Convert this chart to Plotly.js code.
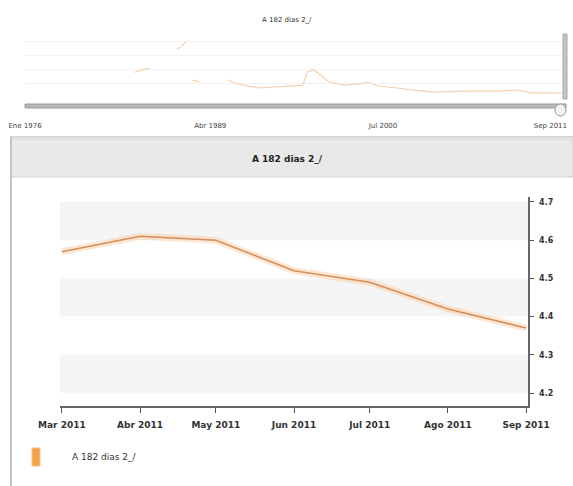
<!DOCTYPE html>
<html>
<head>
<meta charset="utf-8">
<script src="https://cdn.plot.ly/plotly-3.0.1.min.js"></script>
<style>html,body{margin:0;padding:0;background:#fff;}#chart{width:573px;height:486px;}</style>
</head>
<body>
<div id="chart"></div>
<script>
// ---- Data ----
const seriesName = "A 182 dias 2_/";
// main chart (monthly)
const mainDates = ["2011-03-01","2011-04-01","2011-05-01","2011-06-01","2011-07-01","2011-08-01","2011-09-01"];
const mainValues = [4.57, 4.61, 4.60, 4.52, 4.49, 4.42, 4.37];
const mainTickLabels = ["Mar 2011","Abr 2011","May 2011","Jun 2011","Jul 2011","Ago 2011","Sep 2011"];
const yTicks = [4.2, 4.3, 4.4, 4.5, 4.6, 4.7];
// overview (full history, gaps as null)
const overviewDates = ["1983-03-15","1984-03-01","1984-06-01",
  "1986-01-01","1986-04-15","1986-08-01","1986-10-01",
  "1987-01-01","1987-06-15","1988-06-01",
  "1989-05-01","1990-01-01","1991-06-01","1992-06-01","1993-06-01","1994-04-15","1994-08-01","1995-01-01","1995-05-15","1996-01-01","1997-01-01","1998-01-01","1998-07-01","1999-04-01","2000-07-01","2001-07-01","2003-01-01","2005-01-01","2007-01-01","2008-07-01","2009-04-01","2011-09-01"];
const overviewValues = [27, 31.5, null,
  52, 55, 60, null,
  18.5, 16.5, null,
  18.5, 14.2, 9.8, 10.9, 12, 13, 27.2, 29.4, 25, 16.3, 13, 14.2, 16.3, 12, 9.8, 7.6, 5.4, 6.5, 6.5, 7.6, 4.4, 4.37];
const overviewStartTick = ["1976-01-01"];
const overviewStartText = ["Ene 1976"];
const overviewTickVals = ["1989-04-01","2000-07-01","2011-09-01"];
const overviewTickText = ["Abr 1989","Jul 2000","Sep 2011"];
const overviewRange = ["1976-01-01", "2011-09-01"];
const bandRanges = [[4.2,4.3],[4.4,4.5],[4.6,4.7]];

// ---- Layout helpers ----
const W = 573, H = 486;
const px = x => x / W;
const py = y => 1 - y / H;

const traces = [
  {x: overviewDates, y: overviewValues, xaxis: "x2", yaxis: "y2", type: "scatter", mode: "lines",
   line: {color: "#f5cfae", width: 1.2}, connectgaps: false, hoverinfo: "skip", showlegend: false},
  // same overview series bound to the label axis (invisible), so that axis is drawn
  {x: overviewDates, y: overviewValues, xaxis: "x3", yaxis: "y2", type: "scatter", mode: "lines",
   line: {color: "rgba(0,0,0,0)", width: 0}, opacity: 0, hoverinfo: "skip", showlegend: false},
  {x: mainDates, y: mainValues, type: "scatter", mode: "lines",
   line: {color: "rgba(250,205,165,0.45)", width: 7}, hoverinfo: "skip", showlegend: false},
  {x: mainDates, y: mainValues, type: "scatter", mode: "lines", name: seriesName,
   line: {color: "#d98d55", width: 1.5}, showlegend: false}
];

const shapes = [];
// alternating bands in main plot
bandRanges.forEach(r => shapes.push({type: "rect", xref: "paper", yref: "y", layer: "below",
  x0: px(60), x1: px(528), y0: r[0], y1: r[1], fillcolor: "#f5f5f5", line: {width: 0}}));
// range slider bar
shapes.push({type: "rect", xref: "paper", yref: "paper", x0: px(25), x1: px(566), y0: py(108), y1: py(104),
  fillcolor: "#b9b9b9", line: {color: "#9a9a9a", width: 1}});
// right handle vertical bar
shapes.push({type: "rect", xref: "paper", yref: "paper", x0: px(563), x1: px(567), y0: py(99), y1: py(34),
  fillcolor: "#c4c4c4", line: {color: "#aaaaaa", width: 1}});
// handle knob
shapes.push({type: "circle", xref: "paper", yref: "paper", x0: px(555), x1: px(566), y0: py(116), y1: py(104),
  fillcolor: "#f2f2f2", line: {color: "#999", width: 1}});
// panel
shapes.push({type: "line", xref: "paper", yref: "paper", x0: px(10), x1: 1, y0: py(137), y1: py(137), line: {color: "#c8c8c8", width: 1.5}});
shapes.push({type: "rect", xref: "paper", yref: "paper", x0: px(11), x1: 1, y0: py(177), y1: py(139),
  fillcolor: "#e9e9e9", line: {color: "#d2d2d2", width: 1}});
shapes.push({type: "line", xref: "paper", yref: "paper", x0: px(11), x1: px(11), y0: 0, y1: py(137), line: {color: "#c3c3c3", width: 2}});
// legend swatch
shapes.push({type: "rect", xref: "paper", yref: "paper", x0: px(32), x1: px(40), y0: py(466), y1: py(448),
  fillcolor: "#f2a347", line: {color: "#f7c08a", width: 1}});

const annotations = [
  {text: seriesName, xref: "paper", yref: "paper", x: px(287), y: py(20), yanchor: "middle", showarrow: false,
   font: {family: "DejaVu Sans, Arial", size: 7, color: "#333"}},
  {text: seriesName, xref: "paper", yref: "paper", x: px(287), y: py(159), yanchor: "middle", showarrow: false,
   font: {family: "DejaVu Sans, Arial", size: 9, color: "#222", weight: "bold"}},
  {text: seriesName, xref: "paper", yref: "paper", x: px(70), y: py(457), xanchor: "left", yanchor: "middle", showarrow: false,
   font: {family: "DejaVu Sans, Arial", size: 9, color: "#333"}}
];

const ovTickFont = {family: "DejaVu Sans, Arial", size: 7, color: "#444"};

const layout = {
  width: W, height: H, margin: {l: 0, r: 0, t: 0, b: 0},
  paper_bgcolor: "#fff", plot_bgcolor: "rgba(0,0,0,0)", showlegend: false,
  xaxis: {domain: [px(60), px(528)], anchor: "y", type: "date",
    range: ["2011-02-28 06:00", "2011-09-01 18:00"],
    tickvals: mainDates, ticktext: mainTickLabels, ticks: "outside", ticklen: 5, tickcolor: "#555",
    showline: true, linecolor: "#666", linewidth: 1.5, showgrid: false, zeroline: false,
    ticklabelstandoff: 5, ticklabeloverflow: "allow",
    tickfont: {family: "DejaVu Sans, Arial", size: 9, color: "#333", weight: "bold"}},
  yaxis: {domain: [py(406), py(197)], anchor: "x", side: "right", range: [4.166, 4.713],
    tickvals: yTicks, ticks: "outside", ticklen: 4, tickcolor: "#555", ticklabelstandoff: 4,
    showline: true, linecolor: "#666", linewidth: 1.5, showgrid: false, zeroline: false,
    tickfont: {family: "DejaVu Sans, Arial", size: 8, color: "#333", weight: "bold"}},
  xaxis2: {domain: [px(25), px(567)], anchor: "y2", type: "date",
    range: overviewRange, tickvals: overviewStartTick, ticktext: overviewStartText,
    ticks: "", showline: false, showgrid: false, zeroline: false, ticklabeloverflow: "allow",
    ticklabelstandoff: 4, tickfont: ovTickFont},
  xaxis3: {domain: [px(25), px(567)], anchor: "y2", overlaying: "x2", side: "bottom", type: "date",
    range: overviewRange, tickvals: overviewTickVals, ticktext: overviewTickText,
    ticklabelposition: "outside left", ticklabelstandoff: 4,
    ticks: "", showline: false, showgrid: false, zeroline: false, ticklabeloverflow: "allow",
    tickfont: ovTickFont},
  yaxis2: {domain: [py(116), py(30)], anchor: "x2", range: [-20.7, 73], showticklabels: false,
    tickvals: [15, 30, 45, 60], showgrid: true, gridcolor: "#f1f1f1", gridwidth: 1, zeroline: false, showline: false},
  shapes: shapes, annotations: annotations
};

Plotly.newPlot("chart", traces, layout, {displayModeBar: false, staticPlot: true});
</script>
</body>
</html>
